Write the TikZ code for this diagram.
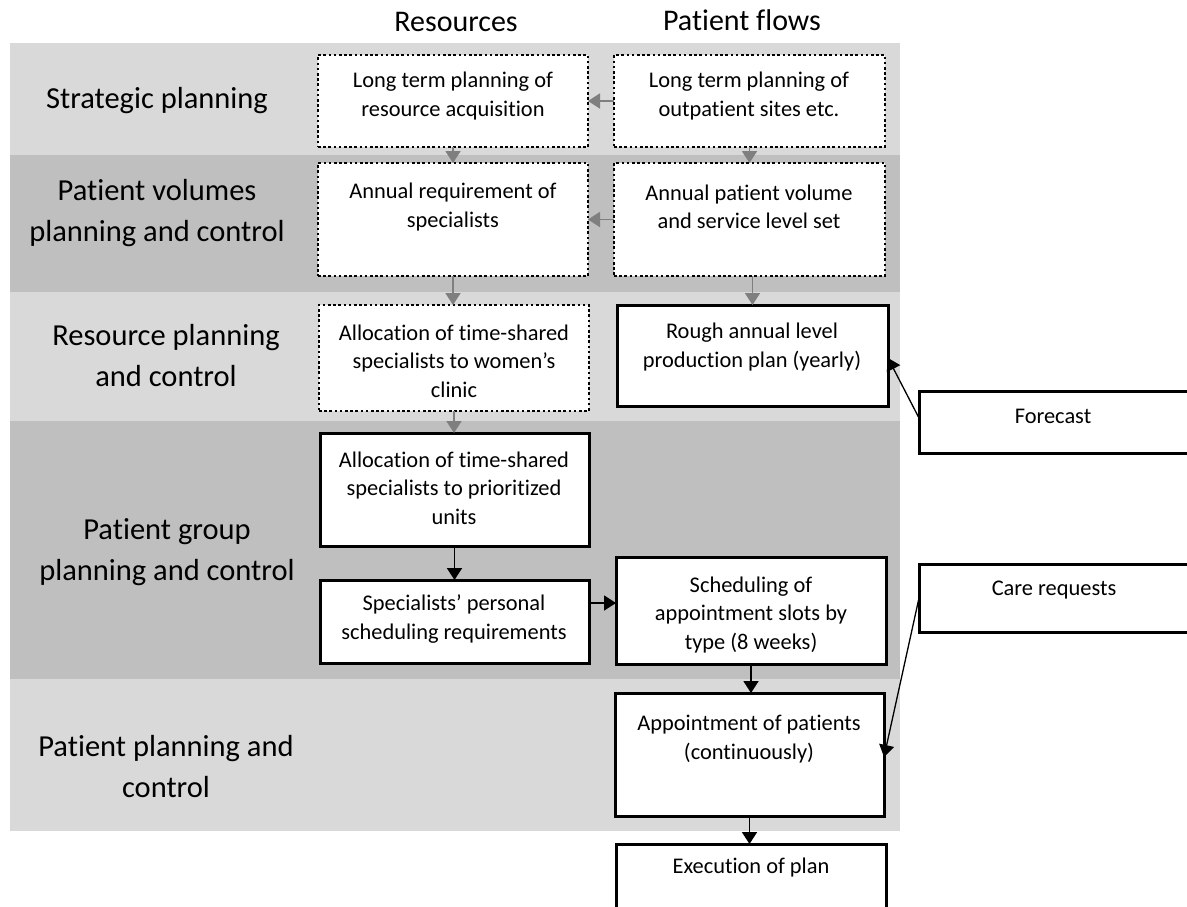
\documentclass[tikz,border=0pt]{standalone}
\usepackage{fontspec}
\setmainfont{Carlito}[Ligatures={NoCommon}]
\usetikzlibrary{arrows.meta}
\definecolor{bandlight}{HTML}{D9D9D9}
\definecolor{banddark}{HTML}{BFBFBF}
\definecolor{flowgray}{HTML}{7F7F7F}
\begin{document}
\begin{tikzpicture}[x=1pt,y=-1pt,
  planbox/.style={draw, line width=2.8pt, dash pattern=on 2.6pt off 2.6pt, fill=white, inner sep=0pt, outer sep=0pt},
  solidbox/.style={draw, line width=3pt, fill=white, inner sep=0pt, outer sep=0pt},
  boxtext/.style={align=center, inner sep=0pt, font=\fontsize{22.4}{28.5}\selectfont},
  level/.style={align=center, inner sep=0pt, font=\fontsize{30.5}{41}\selectfont},
  head/.style={inner sep=0pt, font=\fontsize{30}{36}\selectfont},
  tip/.style={-{Triangle[width=15pt,length=12pt]}},
  grayflow/.style={tip, draw=flowgray, fill=flowgray, line width=1.8pt},
  flow/.style={tip, draw=black, fill=black, line width=1.8pt}]
\useasboundingbox (0,0) rectangle (1187,906);
\clip (0,0) rectangle (1187,906);

% planning levels
\fill[bandlight] (10,43)  rectangle (900,155);
\fill[banddark]  (10,155) rectangle (900,292);
\fill[bandlight] (10,292) rectangle (900,421);
\fill[banddark]  (10,421) rectangle (900,679);
\fill[bandlight] (10,679) rectangle (900,831);

% column headings
\node[head] (hres) at (456,22) {Resources};
\node[head] (hpat) at (742,20) {Patient flows};

% level names
\node[level] (l1) at (157,101) {Strategic planning};
\node[level] (l2) at (157,213) {Patient volumes\\planning and control};
\node[level] (l3) at (166,356) {Resource planning\\and control};
\node[level] (l4) at (167,552) {Patient group\\planning and control};
\node[level] (l5) at (166,767) {Patient planning and\\control};

% resources column
\node[planbox, minimum width=270pt, minimum height=92pt]  (R1) at (453,101) {};
\node[planbox, minimum width=270pt, minimum height=113pt] (R2) at (453,219.5) {};
\node[planbox, minimum width=270pt, minimum height=106pt] (R3) at (454,358) {};
\node[solidbox, minimum width=269pt, minimum height=113pt] (R4) at (454.5,489.5) {};
\node[solidbox, minimum width=269pt, minimum height=83pt]  (R5) at (454.5,621.5) {};

\node[boxtext] (R1t) at (453,96)  {Long term planning of\\resource acquisition};
\node[boxtext] (R2t) at (453,207) {Annual requirement of\\specialists};
\node[boxtext] (R3t) at (454,361) {Allocation of time-shared\\specialists to women’s\\clinic};
\node[boxtext] (R4t) at (454,488) {Allocation of time-shared\\specialists to prioritized\\units};
\node[boxtext] (R5t) at (454,619) {Specialists’ personal\\scheduling requirements};

% patient flow column
\node[planbox, minimum width=271pt, minimum height=92pt]  (P1) at (749.5,101) {};
\node[planbox, minimum width=271pt, minimum height=113pt] (P2) at (749.5,219.5) {};
\node[solidbox, minimum width=271pt, minimum height=101pt] (P3) at (752.5,355.5) {};
\node[solidbox, minimum width=270pt, minimum height=107pt] (P4) at (751,610.5) {};
\node[solidbox, minimum width=269pt, minimum height=123pt] (P5) at (749.5,754.5) {};
\node[solidbox, minimum width=270pt, minimum height=90pt]  (P6) at (751,889) {};

\node[boxtext] (P1t) at (749,96)  {Long term planning of\\outpatient sites etc.};
\node[boxtext] (P2t) at (749,207) {Annual patient volume\\and service level set};
\node[boxtext] (P3t) at (752,347) {Rough annual level\\production plan (yearly)};
\node[boxtext] (P4t) at (751,615) {Scheduling of\\appointment slots by\\type (8 weeks)};
\node[boxtext] (P5t) at (749,739) {Appointment of patients\\(continuously)};
\node[boxtext] (P6t) at (751,868) {Execution of plan};

% external inputs
\node[solidbox, minimum width=276pt, minimum height=62pt] (F) at (1057,422) {};
\node[solidbox, minimum width=276pt, minimum height=68pt] (C) at (1057,598) {};
\node[boxtext] (Ft) at (1053,416) {Forecast};
\node[boxtext] (Ct) at (1054,590) {Care requests};

% flows between planning boxes
\draw[grayflow] (P1.west) -- (R1.east);
\draw[grayflow] (P2.west) -- (R2.east);
\draw[grayflow] (R1.south) -- (R2.north);
\draw[grayflow] (P1.south) -- (P2.north);
\draw[grayflow] (R2.south) -- (R2.south |- R3.north);
\draw[grayflow] (P2.south -| P3.north) -- (P3.north);
\draw[grayflow] (R3.south) -- (R3.south |- R4.north);

\draw[flow] (R4.south) -- (R4.south |- R5.north);
\draw[flow] ([yshift=18.5pt]R5.east) -- ([yshift=18.5pt]R5.east -| P4.west);
\draw[flow] (P4.south) -- (P4.south |- P5.north);
\draw[flow] (P5.south) -- (P5.south |- P6.north);
\draw[flow, line width=1.3pt] ([yshift=4pt]F.west) -- ([yshift=-2.5pt]P3.east);
\draw[flow, line width=1.3pt] (C.west) -- ([yshift=-2.5pt]P5.east);
\end{tikzpicture}
\end{document}
